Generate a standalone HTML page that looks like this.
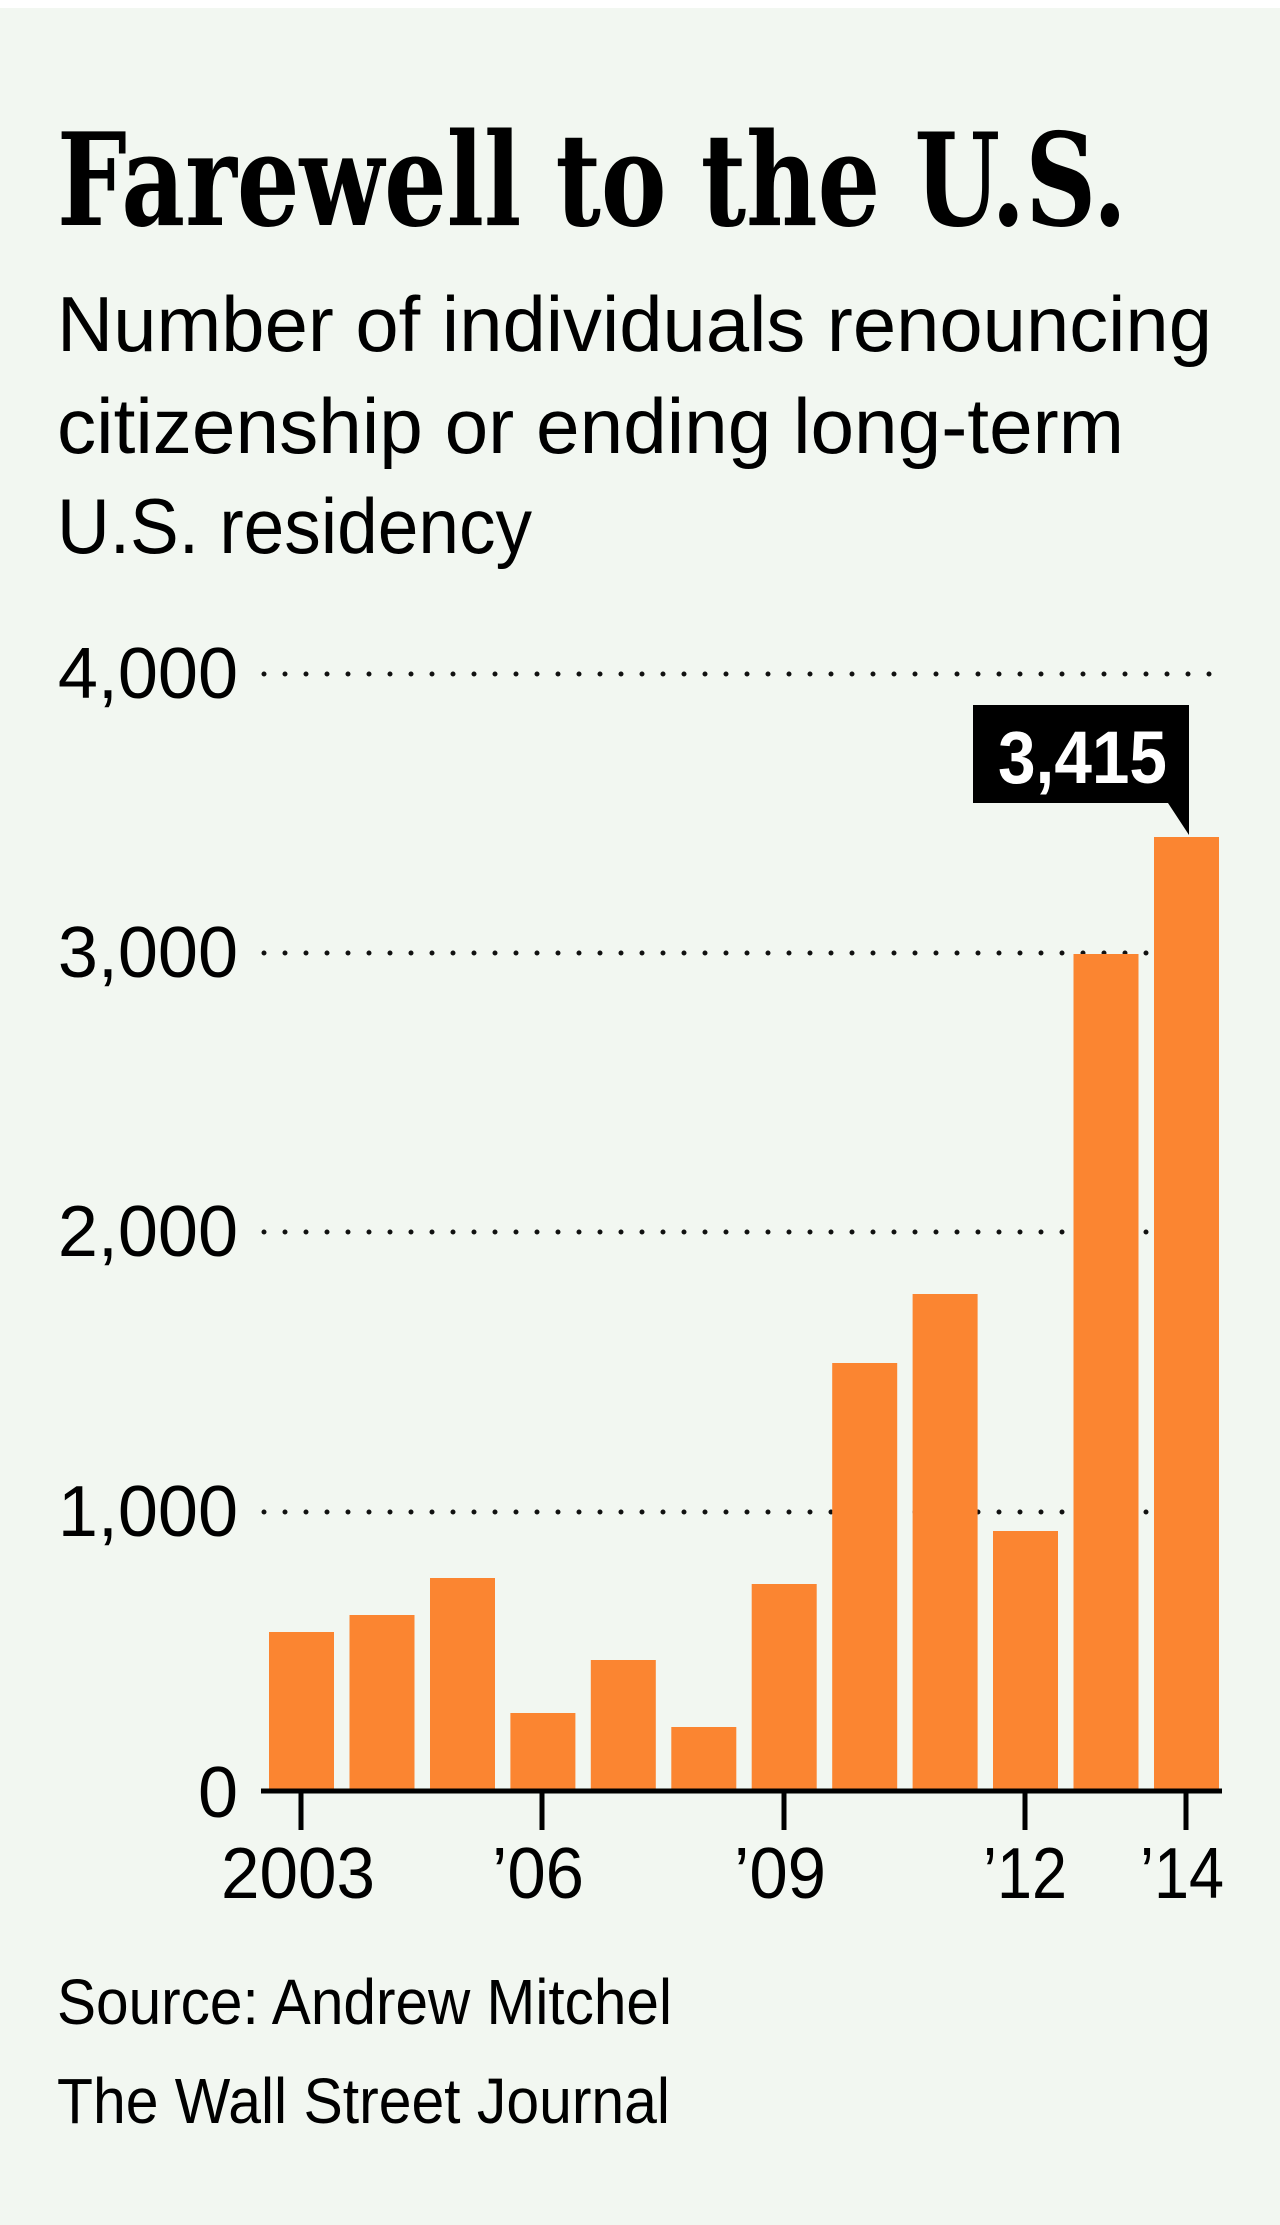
<!DOCTYPE html>
<html><head><meta charset="utf-8"><style>
html,body{margin:0;padding:0;background:#fff}
svg{display:block}
</style></head><body>
<svg width="1280" height="2225" viewBox="0 0 1280 2225" xmlns="http://www.w3.org/2000/svg">
<rect x="0" y="8" width="1280" height="2217" fill="#f2f7f1"/>
<text x="57" y="225" font-family="DejaVu Serif, Liberation Serif, serif" font-weight="bold" font-size="128" textLength="1070" lengthAdjust="spacingAndGlyphs" fill="#000">Farewell to the U.S.</text>
<g font-family="Liberation Sans, sans-serif" font-size="78" fill="#000">
<text x="57" y="351" textLength="1155" lengthAdjust="spacingAndGlyphs">Number of individuals renouncing</text>
<text x="57" y="453" textLength="1067" lengthAdjust="spacingAndGlyphs">citizenship or ending long-term</text>
<text x="57" y="553" textLength="475" lengthAdjust="spacingAndGlyphs">U.S. residency</text>
</g>
<g fill="#111">
<line x1="264" y1="674" x2="1227" y2="674" stroke="#111" stroke-width="5" stroke-linecap="round" stroke-dasharray="0 21"/>
<line x1="264" y1="953" x2="1227" y2="953" stroke="#111" stroke-width="5" stroke-linecap="round" stroke-dasharray="0 21"/>
<line x1="264" y1="1232" x2="1227" y2="1232" stroke="#111" stroke-width="5" stroke-linecap="round" stroke-dasharray="0 21"/>
<line x1="264" y1="1512" x2="1227" y2="1512" stroke="#111" stroke-width="5" stroke-linecap="round" stroke-dasharray="0 21"/>
</g>
<g fill="#fb8531">
<rect x="269" y="1632" width="65" height="159"/>
<rect x="349.5" y="1615" width="65" height="176"/>
<rect x="430" y="1578" width="65" height="213"/>
<rect x="510.4" y="1713" width="65" height="78"/>
<rect x="590.8" y="1660" width="65" height="131"/>
<rect x="671.3" y="1727" width="65" height="64"/>
<rect x="751.7" y="1584" width="65" height="207"/>
<rect x="832.2" y="1363" width="65" height="428"/>
<rect x="912.6" y="1294" width="65" height="497"/>
<rect x="993" y="1531" width="65" height="260"/>
<rect x="1073.5" y="954" width="65" height="837"/>
<rect x="1154" y="837" width="65" height="954"/>
</g>
<line x1="261" y1="1791" x2="1222" y2="1791" stroke="#000" stroke-width="5"/>
<g stroke="#000" stroke-width="5">
<line x1="301" y1="1791" x2="301" y2="1830"/>
<line x1="542" y1="1791" x2="542" y2="1830"/>
<line x1="784" y1="1791" x2="784" y2="1830"/>
<line x1="1025" y1="1791" x2="1025" y2="1830"/>
<line x1="1186" y1="1791" x2="1186" y2="1830"/>
</g>
<g font-family="Liberation Sans, sans-serif" font-size="72" fill="#000" text-anchor="end">
<text x="238" y="698">4,000</text>
<text x="238" y="977">3,000</text>
<text x="238" y="1256">2,000</text>
<text x="238" y="1536">1,000</text>
<text x="238" y="1817">0</text>
</g>
<g font-family="Liberation Sans, sans-serif" font-size="72" fill="#000">
<text x="221" y="1898" textLength="154" lengthAdjust="spacingAndGlyphs">2003</text>
<text x="492" y="1898" textLength="92" lengthAdjust="spacingAndGlyphs">’06</text>
<text x="734" y="1898" textLength="92" lengthAdjust="spacingAndGlyphs">’09</text>
<text x="983" y="1898" textLength="84" lengthAdjust="spacingAndGlyphs">’12</text>
<text x="1140" y="1898" textLength="84" lengthAdjust="spacingAndGlyphs">’14</text>
</g>
<path d="M973 705 H1189 V835 L1168 803 H973 Z" fill="#000"/>
<text x="998" y="783" font-family="Liberation Sans, sans-serif" font-weight="bold" font-size="74" fill="#fff" textLength="169" lengthAdjust="spacingAndGlyphs">3,415</text>
<g font-family="Liberation Sans, sans-serif" font-size="64" fill="#000">
<text x="57" y="2024" textLength="615" lengthAdjust="spacingAndGlyphs">Source: Andrew Mitchel</text>
<text x="57" y="2123" textLength="613" lengthAdjust="spacingAndGlyphs">The Wall Street Journal</text>
</g>
</svg>
</body></html>
